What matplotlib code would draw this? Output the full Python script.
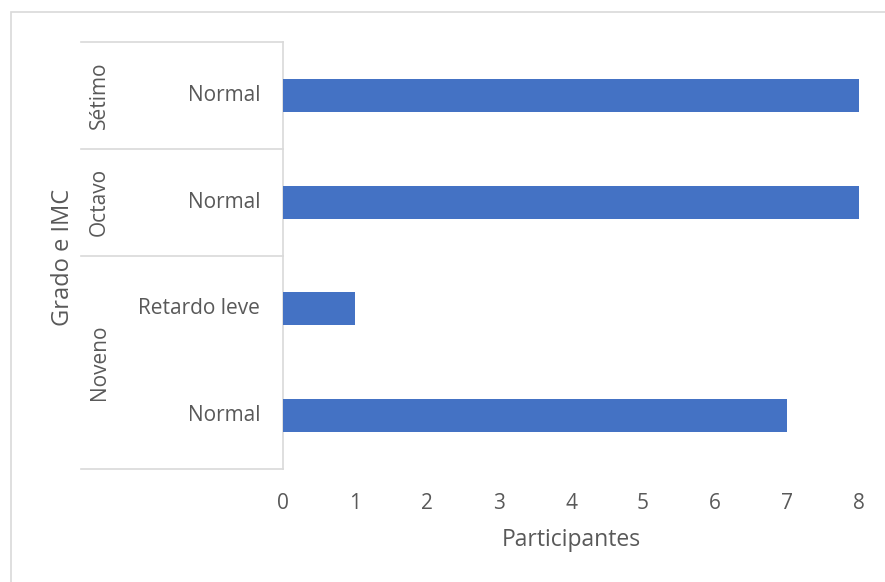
import matplotlib.pyplot as plt
from matplotlib.patches import Rectangle
import matplotlib.transforms as mtransforms

# data, top to bottom as in the chart
grados = ["Sétimo", "Octavo", "Noveno", "Noveno"]
imc = ["Normal", "Normal", "Retardo leve", "Normal"]
participantes = [8, 8, 1, 7]
x_ticks = [0, 1, 2, 3, 4, 5, 6, 7, 8]

W, H = 885, 582
TXT = "#595959"
LINE = "#D9D9D9"
BAR = "#4472C4"

plt.rcParams["font.family"] = ["Open Sans", "DejaVu Sans"]

fig = plt.figure(figsize=(W / 100, H / 100), dpi=100)

# figure frame (only top/left visible in the reference)
fig.patches.append(Rectangle((11 / W, -0.2), 1.2, 1.2 - 12 / H, transform=fig.transFigure,
                             fill=False, edgecolor=LINE, linewidth=1.2, clip_on=False))

ax_l, ax_r, ax_t, ax_b = 283, 859, 42, 469
ax = fig.add_axes([ax_l / W, 1 - ax_b / H, (ax_r - ax_l) / W, (ax_b - ax_t) / H])

ypos = list(range(len(participantes)))
ax.barh(ypos, participantes, height=0.31, color=BAR, zorder=3)
ax.set_xlim(0, 8)
ax.set_ylim(len(participantes) - 0.5, -0.5)

for s in ["top", "right", "bottom"]:
    ax.spines[s].set_visible(False)
ax.spines["left"].set_color(LINE)
ax.spines["left"].set_linewidth(1.2)

ax.set_xticks(x_ticks)
ax.tick_params(axis="x", length=0, labelsize=15, colors=TXT, pad=17)
ax.set_yticks([])
ax.set_xlabel("Participantes", fontsize=16.5, color=TXT, labelpad=10)

# multi-level category axis
tr = mtransforms.blended_transform_factory(ax.transAxes, ax.transData)
left_x = -(ax_l - 81) / (ax_r - ax_l)
sub_x = -(ax_l - 260) / (ax_r - ax_l)
grp_x = -(ax_l - 99) / (ax_r - ax_l)

for y, lab in zip(ypos, imc):
    ax.text(sub_x, y, lab, transform=tr, ha="right", va="center",
            fontsize=15, color=TXT)

# group spans
groups = []
for i, g in enumerate(grados):
    if groups and groups[-1][0] == g:
        groups[-1][2] = i
    else:
        groups.append([g, i, i])

bounds = [-0.5]
for g, a, b in groups:
    ax.text(grp_x, (a + b) / 2, g, transform=tr, ha="center", va="center",
            rotation=90, fontsize=15, color=TXT)
    bounds.append(b + 0.5)

for yb in bounds:
    ax.plot([left_x, 0], [yb, yb], transform=tr, color=LINE, linewidth=1.2,
            clip_on=False)

fig.text(63 / W, 1 - 257 / H, "Grado e IMC", rotation=90, ha="center", va="center",
         fontsize=17, color=TXT)

fig.savefig("out.png", dpi=100)
